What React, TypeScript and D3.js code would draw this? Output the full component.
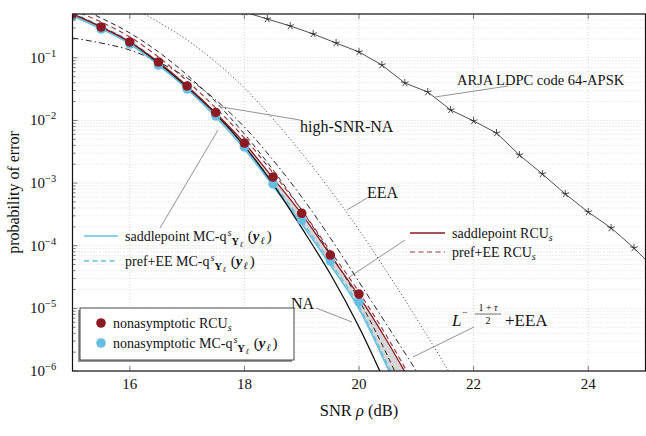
import React from 'react';
import * as d3 from 'd3';

// SNR grids (dB)
const snrHalf = [15, 15.5, 16, 16.5, 17, 17.5, 18, 18.5, 19, 19.5, 20, 20.5, 21];
const snrDots = [15, 15.5, 16, 16.5, 17, 17.5, 18, 18.5, 19, 19.5, 20];
const snrNA = [15, 15.5, 16, 16.5, 17, 17.5, 18, 18.5, 19, 19.5, 20, 20.5];
const snrDashDot = [15, 15.5, 16, 16.5, 17, 17.5, 18, 18.5, 19, 19.5, 20, 20.5, 21, 21.5];
const snrEEA = [16, 16.5, 17, 17.5, 18, 18.5, 19, 19.5, 20, 20.5, 21, 21.5, 22];
const snrArja = [18.0, 18.4, 18.8, 19.2, 19.6, 20.0, 20.4, 20.8, 21.2, 21.6, 22.0, 22.4, 22.8, 23.2, 23.6, 24.0, 24.4, 24.8, 25.2];

// probability of error
const rcuDots = [0.5, 0.31, 0.179, 0.0857, 0.0355, 0.0134, 0.00436, 0.00125, 3.3e-4, 7.1e-5, 1.69e-5];
const mcDots = [0.465, 0.288, 0.166, 0.0767, 0.0318, 0.0118, 0.00377, 9.7e-4, 2.57e-4, 5.7e-5, 1.26e-5];
const rcuSaddle = [0.5, 0.31, 0.179, 0.0857, 0.0355, 0.01315, 0.00436, 1.2e-3, 3.2e-4, 7.1e-5, 1.57e-5, 2.9e-6, 4.6e-7];
const rcuPref = [0.58, 0.372, 0.215, 0.103, 0.0426, 0.0158, 0.00524, 1.45e-3, 3.7e-4, 8.2e-5, 1.82e-5, 3.4e-6, 5.3e-7];
const mcSaddle = [0.465, 0.288, 0.166, 0.0767, 0.0318, 0.01135, 0.0035, 8.97e-4, 2.22e-4, 4.92e-5, 9.8e-6, 1.12e-6, 1.14e-7];
const mcPref = [0.519, 0.321, 0.185, 0.0857, 0.0355, 0.01267, 0.0039, 1.0e-3, 2.48e-4, 5.5e-5, 1.09e-5, 1.25e-6, 1.28e-7];
const na = [0.5, 0.31, 0.179, 0.0826, 0.0342, 0.01267, 0.0039, 9.66e-4, 1.92e-4, 3.53e-5, 5.04e-6, 5.3e-7];
const highSnrNA = [0.697, 0.431, 0.249, 0.124, 0.0531, 0.0197, 0.00607, 1.62e-3, 3.7e-4, 7.4e-5, 1.36e-5, 1.73e-6, 1.65e-7];
const lEEA = [0.207, 0.172, 0.133, 0.0857, 0.0476, 0.0212, 0.00785, 2.33e-3, 6.0e-4, 1.33e-4, 2.64e-5, 5.2e-6, 1.0e-6, 1.77e-7];
const eea = [0.671, 0.372, 0.192, 0.0857, 0.033, 0.01054, 3.02e-3, 7.7e-4, 1.78e-4, 3.66e-5, 7.0e-6, 1.25e-6, 2.13e-7];
const arja = [0.538, 0.416, 0.322, 0.24, 0.172, 0.124, 0.0767, 0.0396, 0.0284, 0.01467, 0.0098, 0.0063, 0.0028, 0.0014, 6.7e-4, 3.45e-4, 1.92e-4, 9.2e-5, 3.9e-5];

const xTicks = [16, 18, 20, 22, 24];
const yTicks = [1e-6, 1e-5, 1e-4, 1e-3, 1e-2, 1e-1];
const yTickExp = ['−6', '−5', '−4', '−3', '−2', '−1'];

const RED = '#8b1a24';
const BLUE = '#66bfe0';
const TS = { fontFamily: "'Liberation Serif'" };

const x = d3.scaleLinear().domain([15, 25]).range([72.5, 645.5]);
const y = d3.scaleLog().domain([1e-6, 0.5]).range([371, 14]);

const mk = (xs: number[], ys: number[]) => xs.map((v, i) => [v, ys[i]] as [number, number]);

const curve = d3.line<[number, number]>()
  .x(d => x(d[0]))
  .y(d => y(d[1]))
  .curve(d3.curveMonotoneX);

const poly = d3.line<[number, number]>()
  .x(d => x(d[0]))
  .y(d => y(d[1]));

const band = d3.area<number>()
  .x((_, i) => x(snrHalf[i]))
  .y0((_, i) => y(mcSaddle[i]))
  .y1((_, i) => y(rcuSaddle[i]))
  .curve(d3.curveMonotoneX);

function minorValues() {
  const out: number[] = [];
  for (let k = -6; k <= -1; k++) {
    for (let m = 2; m <= 9; m++) {
      const v = m * Math.pow(10, k);
      if (v <= 0.5) out.push(v);
    }
  }
  return out;
}

function Star({ cx, cy }: { cx: number; cy: number }) {
  const r = 4;
  const arms = d3.range(5).map(i => {
    const a = -Math.PI / 2 + (i * 2 * Math.PI) / 5;
    return <line key={i} x1={cx} y1={cy} x2={cx + r * Math.cos(a)} y2={cy + r * Math.sin(a)} stroke="#222" strokeWidth={0.8} />;
  });
  return <g>{arms}</g>;
}

// q^s_{Y_l}(y_l)
function MCq() {
  return (
    <>
      <tspan>MC-q</tspan>
      <tspan fontStyle="italic" fontSize={10} dy={-5} dx={1}>s</tspan>
      <tspan fontWeight="bold" fontSize={10.5} dy={9}>Y</tspan>
      <tspan fontStyle="italic" fontSize={8} dy={2} dx={0.5}>ℓ</tspan>
      <tspan dy={-6} dx={5} fontSize={15}>(</tspan>
      <tspan fontWeight="bold" fontStyle="italic" fontSize={15}>y</tspan>
      <tspan fontStyle="italic" fontSize={10} dy={3} dx={1}>ℓ</tspan>
      <tspan dy={-3} dx={2} fontSize={15}>)</tspan>
    </>
  );
}

function RCUs() {
  return (
    <>
      <tspan>RCU</tspan>
      <tspan fontStyle="italic" fontSize={10} dy={3}>s</tspan>
    </>
  );
}

export default function App() {
  const minors = minorValues();
  const plotL = x(15), plotR = x(25), plotT = y(0.5), plotB = y(1e-6);

  return (
    <svg width={646} height={436} style={{ position: 'absolute', left: 0, top: 0, background: '#fff' }}>
      <defs>
        <clipPath id="plot">
          <rect x={plotL} y={plotT} width={plotR - plotL} height={plotB - plotT} />
        </clipPath>
      </defs>

      {/* grid */}
      <g stroke="#c8c8c8" strokeWidth={0.6} strokeDasharray="1,2">
        {minors.map(v => <line key={'m' + v} x1={plotL} x2={plotR} y1={y(v)} y2={y(v)} />)}
        {yTicks.map(v => <line key={'M' + v} x1={plotL} x2={plotR} y1={y(v)} y2={y(v)} stroke="#bbb" />)}
        {xTicks.map(v => <line key={'x' + v} x1={x(v)} x2={x(v)} y1={plotT} y2={plotB} stroke="#bbb" />)}
      </g>

      <g clipPath="url(#plot)">
        <path d={band(snrHalf) || ''} fill="#d6d6d6" />
        <path d={curve(mk(snrEEA, eea)) || ''} fill="none" stroke="#222" strokeWidth={0.9} strokeDasharray="1,2.4" />
        <path d={curve(mk(snrDashDot, lEEA)) || ''} fill="none" stroke="#222" strokeWidth={1} strokeDasharray="6,3,1.5,3" />
        <path d={curve(mk(snrHalf, highSnrNA)) || ''} fill="none" stroke="#222" strokeWidth={1} strokeDasharray="5,3.5" />
        <path d={curve(mk(snrHalf, mcPref)) || ''} fill="none" stroke={BLUE} strokeWidth={1.3} strokeDasharray="5,3.5" />
        <path d={curve(mk(snrHalf, mcSaddle)) || ''} fill="none" stroke={BLUE} strokeWidth={1.6} />
        <path d={curve(mk(snrNA, na)) || ''} fill="none" stroke="#111" strokeWidth={1.3} />
        <path d={curve(mk(snrHalf, rcuPref)) || ''} fill="none" stroke={RED} strokeWidth={1.2} strokeDasharray="5,3.5" strokeOpacity={0.85} />
        <path d={curve(mk(snrHalf, rcuSaddle)) || ''} fill="none" stroke={RED} strokeWidth={1.3} />
        <path d={poly(mk(snrArja, arja)) || ''} fill="none" stroke="#222" strokeWidth={0.8} />
        {snrArja.map((v, i) => <Star key={'s' + i} cx={x(v)} cy={y(arja[i])} />)}
        {snrDots.map((v, i) => <circle key={'b' + i} cx={x(v)} cy={y(mcDots[i])} r={4.8} fill={BLUE} />)}
        {snrDots.map((v, i) => <circle key={'r' + i} cx={x(v)} cy={y(rcuDots[i])} r={4.8} fill={RED} />)}
      </g>

      {/* frame and ticks */}
      <rect x={plotL} y={plotT} width={plotR - plotL} height={plotB - plotT} fill="none" stroke="#111" strokeWidth={1.2} />
      <g stroke="#444" strokeWidth={0.7}>
        {minors.map(v => <line key={'tm' + v} x1={plotL} x2={plotL + 3} y1={y(v)} y2={y(v)} />)}
        {yTicks.map(v => <line key={'tM' + v} x1={plotL} x2={plotL + 5} y1={y(v)} y2={y(v)} />)}
        {xTicks.map(v => <line key={'tx' + v} x1={x(v)} x2={x(v)} y1={plotB} y2={plotB - 5} />)}
        {xTicks.map(v => <line key={'txt' + v} x1={x(v)} x2={x(v)} y1={plotT} y2={plotT + 5} />)}
      </g>

      {/* tick labels */}
      <g fontSize={15} fill="#111">
        {xTicks.map(v => <text key={'lx' + v} style={TS} x={x(v)} y={389} textAnchor="middle">{v}</text>)}
        {yTicks.map((v, i) => (
          <text key={'ly' + v} style={TS} x={30} y={y(v) + 5}>
            <tspan>10</tspan>
            <tspan fontSize={10.5} dy={-6}>{yTickExp[i]}</tspan>
          </text>
        ))}
      </g>

      <text style={TS} x={359} y={416} textAnchor="middle" fontSize={16.5} fill="#111">
        SNR <tspan fontStyle="italic">ρ</tspan> (dB)
      </text>
      <text style={TS} transform={`translate(19,${(plotT + plotB) / 2}) rotate(-90)`} textAnchor="middle" fontSize={16} fill="#111">
        probability of error
      </text>

      {/* annotations */}
      <g stroke="#777" strokeWidth={0.8}>
        <line x1={435} y1={97} x2={508} y2={86} />
        <line x1={222} y1={107} x2={300} y2={120} />
        <line x1={367} y1={198} x2={347} y2={210} />
        <line x1={160} y1={228} x2={218} y2={130} />
        <line x1={405} y1={240} x2={348} y2={278} />
        <line x1={316} y1={308} x2={352} y2={322} />
        <line x1={474} y1={327} x2={413} y2={357} />
      </g>
      <g fontSize={16} fill="#111">
        <text style={TS} x={457} y={85} fontSize={14.5}>ARJA LDPC code 64-APSK</text>
        <text style={TS} x={300} y={132}>high-SNR-NA</text>
        <text style={TS} x={367} y={198}>EEA</text>
        <text style={TS} x={291} y={309}>NA</text>
        <text style={TS} x={452} y={326} fontStyle="italic" fontSize={17}>L</text>
        <text style={TS} x={462} y={316} fontSize={10}>−</text>
        <text style={TS} x={488} y={311} fontSize={10} textAnchor="middle">1 + <tspan fontStyle="italic">τ</tspan></text>
        <text style={TS} x={488} y={324} fontSize={10} textAnchor="middle">2</text>
        <text style={TS} x={505} y={326} fontSize={17}>+EEA</text>
      </g>
      <line x1={475} x2={501} y1={314} y2={314} stroke="#111" strokeWidth={0.6} />

      {/* legend: MC curves */}
      <line x1={84} x2={118} y1={236} y2={236} stroke={BLUE} strokeWidth={1.6} />
      <line x1={84} x2={118} y1={261} y2={261} stroke={BLUE} strokeWidth={1.3} strokeDasharray="5,3.5" />
      <g fontSize={14} fill="#111">
        <text style={TS} x={125} y={241}>saddlepoint <MCq /></text>
        <text style={TS} x={125} y={266}>pref+EE <MCq /></text>
      </g>

      {/* legend: RCU curves */}
      <line x1={410} x2={445} y1={233} y2={233} stroke={RED} strokeWidth={1.3} />
      <line x1={410} x2={445} y1={252} y2={252} stroke={RED} strokeWidth={1.2} strokeDasharray="5,3.5" strokeOpacity={0.85} />
      <g fontSize={14} fill="#111">
        <text style={TS} x={452} y={238}>saddlepoint <RCUs /></text>
        <text style={TS} x={452} y={257}>pref+EE <RCUs /></text>
      </g>

      {/* legend: nonasymptotic markers */}
      <rect x={78} y={310} width={214} height={52} fill="#999" />
      <rect x={80} y={308} width={214} height={52} fill="#fff" stroke="#333" strokeWidth={0.9} />
      <circle cx={101} cy={323} r={4.8} fill={RED} />
      <circle cx={101} cy={343} r={4.8} fill={BLUE} />
      <g fontSize={14} fill="#111">
        <text style={TS} x={113} y={328}>nonasymptotic <RCUs /></text>
        <text style={TS} x={113} y={348}>nonasymptotic <MCq /></text>
      </g>
    </svg>
  );
}
